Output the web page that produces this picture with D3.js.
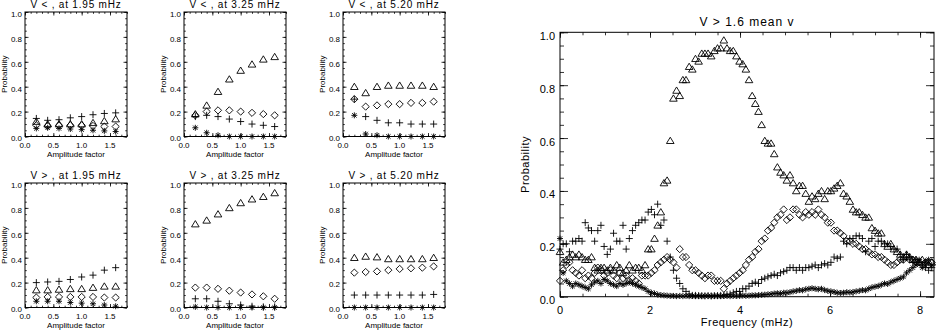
<!DOCTYPE html>
<html>
<head>
<meta charset="utf-8">
<script src="https://cdn.jsdelivr.net/npm/d3@7"></script>
<style>
  body { margin: 0; background: #fff; }
  svg text { font-family: "Liberation Sans", Arial, sans-serif; fill: #000; }
</style>
</head>
<body>
<div id="chart"></div>
<script>
/*
*    probability panels
*/

// ===== small panels: amplitude factor on x =====
const amplitudes = [0.2, 0.4, 0.6, 0.8, 1.0, 1.2, 1.4, 1.6];
const ampTicks = [0.0, 0.5, 1.0, 1.5];
const probTicks = [0.0, 0.2, 0.4, 0.6, 0.8, 1.0];

// order of every panel: plus, triangle, diamond, asterisk
const lt195 = [
  [0.145, 0.13, 0.135, 0.15, 0.16, 0.175, 0.185, 0.19],
  [0.12, 0.10, 0.10, 0.10, 0.10, 0.11, 0.125, 0.14],
  [0.09, 0.085, 0.09, 0.09, 0.09, 0.085, 0.08, 0.08],
  [0.065, 0.07, 0.065, 0.06, 0.055, 0.05, 0.045, 0.04]
];
const lt325 = [
  [0.16, 0.17, 0.16, 0.14, 0.12, 0.10, 0.09, 0.08],
  [0.18, 0.25, 0.36, 0.46, 0.53, 0.58, 0.62, 0.64],
  [0.17, 0.20, 0.21, 0.21, 0.20, 0.19, 0.18, 0.17],
  [0.07, 0.03, 0.01, 0.0, 0.0, 0.0, 0.0, 0.0]
];
const lt520 = [
  [0.30, 0.16, 0.13, 0.11, 0.11, 0.10, 0.10, 0.10],
  [0.40, 0.35, 0.40, 0.41, 0.41, 0.41, 0.41, 0.40],
  [0.30, 0.24, 0.25, 0.26, 0.26, 0.27, 0.27, 0.28],
  [0.17, 0.02, 0.01, 0.0, 0.0, 0.0, 0.0, 0.0]
];
const gt195 = [
  [0.20, 0.205, 0.21, 0.225, 0.245, 0.26, 0.30, 0.32],
  [0.14, 0.14, 0.145, 0.15, 0.15, 0.16, 0.17, 0.17],
  [0.08, 0.085, 0.085, 0.085, 0.085, 0.085, 0.08, 0.08],
  [0.05, 0.05, 0.05, 0.04, 0.035, 0.03, 0.02, 0.01]
];
const gt325 = [
  [0.07, 0.07, 0.05, 0.03, 0.02, 0.01, 0.005, 0.005],
  [0.67, 0.70, 0.75, 0.80, 0.84, 0.87, 0.89, 0.92],
  [0.16, 0.16, 0.15, 0.135, 0.12, 0.105, 0.09, 0.07],
  [0.005, 0.0, 0.0, 0.0, 0.0, 0.0, 0.0, 0.0]
];
const gt520 = [
  [0.10, 0.10, 0.10, 0.10, 0.10, 0.10, 0.10, 0.105],
  [0.40, 0.41, 0.405, 0.39, 0.39, 0.39, 0.39, 0.40],
  [0.28, 0.285, 0.29, 0.30, 0.31, 0.315, 0.32, 0.33],
  [0.0, 0.0, 0.0, 0.0, 0.0, 0.0, 0.0, 0.0]
];
const panelTitles = [
  "V < , at 1.95 mHz", "V < , at 3.25 mHz", "V < , at 5.20 mHz",
  "V > , at 1.95 mHz", "V > , at 3.25 mHz", "V > , at 5.20 mHz"
];
const panelData = [lt195, lt325, lt520, gt195, gt325, gt520];

// ===== big panel: frequency on x =====
const freqTicks = [0, 2, 4, 6, 8];
const freqs = [
  0.00, 0.07, 0.14, 0.21, 0.28, 0.35, 0.42, 0.49, 0.56, 0.63,
  0.70, 0.77, 0.84, 0.91, 0.98, 1.05, 1.12, 1.19, 1.26, 1.33,
  1.40, 1.47, 1.54, 1.61, 1.68, 1.75, 1.82, 1.89, 1.96, 2.03,
  2.10, 2.17, 2.24, 2.31, 2.38, 2.45, 2.52, 2.59, 2.66, 2.73,
  2.80, 2.87, 2.94, 3.01, 3.08, 3.15, 3.22, 3.29, 3.36, 3.43,
  3.50, 3.57, 3.64, 3.71, 3.78, 3.85, 3.92, 3.99, 4.06, 4.13,
  4.20, 4.27, 4.34, 4.41, 4.48, 4.55, 4.62, 4.69, 4.76, 4.83,
  4.90, 4.97, 5.04, 5.11, 5.18, 5.25, 5.32, 5.39, 5.46, 5.53,
  5.60, 5.67, 5.74, 5.81, 5.88, 5.95, 6.02, 6.09, 6.16, 6.23,
  6.30, 6.37, 6.44, 6.51, 6.58, 6.65, 6.72, 6.79, 6.86, 6.93,
  7.00, 7.07, 7.14, 7.21, 7.28, 7.35, 7.42, 7.49, 7.56, 7.63,
  7.70, 7.77, 7.84, 7.91, 7.98, 8.05, 8.12, 8.19, 8.26
];
const bigTri = [
  0.17, 0.13, 0.14, 0.15, 0.16, 0.15, 0.16, 0.15, 0.14, 0.14,
  0.15, 0.11, 0.10, 0.11, 0.11, 0.10, 0.11, 0.10, 0.12, 0.11,
  0.09, 0.10, 0.12, 0.10, 0.11, 0.11, 0.10, 0.12, 0.18, 0.18,
  0.22, 0.27, 0.32, 0.43, 0.44, 0.59, 0.75, 0.78, 0.76, 0.82,
  0.82, 0.87, 0.86, 0.90, 0.89, 0.92, 0.92, 0.92, 0.91, 0.93,
  0.94, 0.94, 0.97, 0.94, 0.93, 0.93, 0.91, 0.89, 0.88, 0.86,
  0.82, 0.76, 0.73, 0.70, 0.65, 0.59, 0.58, 0.58, 0.54, 0.49,
  0.47, 0.46, 0.44, 0.46, 0.43, 0.40, 0.42, 0.42, 0.39, 0.36,
  0.38, 0.37, 0.39, 0.40, 0.37, 0.40, 0.40, 0.41, 0.42, 0.43,
  0.39, 0.38, 0.36, 0.33, 0.32, 0.32, 0.31, 0.30, 0.30, 0.26,
  0.25, 0.24, 0.24, 0.20, 0.19, 0.20, 0.18, 0.17, 0.16, 0.15,
  0.16, 0.15, 0.14, 0.14, 0.13, 0.14, 0.13, 0.12, 0.13
];
const bigDia = [
  0.06, 0.10, 0.12, 0.13, 0.10, 0.09, 0.08, 0.10, 0.07, 0.08,
  0.07, 0.09, 0.11, 0.10, 0.08, 0.09, 0.10, 0.08, 0.07, 0.09,
  0.07, 0.08, 0.06, 0.07, 0.06, 0.05, 0.08, 0.08, 0.08, 0.09,
  0.10, 0.12, 0.13, 0.14, 0.15, 0.14, 0.13, 0.11, 0.18, 0.15,
  0.15, 0.12, 0.10, 0.10, 0.09, 0.08, 0.07, 0.08, 0.08, 0.06,
  0.06, 0.06, 0.03, 0.05, 0.06, 0.07, 0.08, 0.09, 0.10, 0.12,
  0.14, 0.15, 0.17, 0.18, 0.21, 0.22, 0.25, 0.26, 0.28, 0.30,
  0.31, 0.33, 0.29, 0.30, 0.33, 0.33, 0.31, 0.30, 0.32, 0.31,
  0.32, 0.31, 0.33, 0.31, 0.30, 0.28, 0.28, 0.25, 0.25, 0.24,
  0.23, 0.21, 0.21, 0.20, 0.20, 0.19, 0.18, 0.18, 0.17, 0.16,
  0.16, 0.15, 0.15, 0.14, 0.13, 0.12, 0.12, 0.13, 0.14, 0.14,
  0.15, 0.14, 0.14, 0.13, 0.13, 0.12, 0.13, 0.12, 0.13
];
const bigPlus = [
  0.18, 0.20, 0.20, 0.17, 0.21, 0.21, 0.22, 0.21, 0.28, 0.26,
  0.25, 0.21, 0.25, 0.27, 0.19, 0.16, 0.18, 0.24, 0.21, 0.21,
  0.27, 0.18, 0.22, 0.25, 0.27, 0.28, 0.29, 0.29, 0.32, 0.33,
  0.31, 0.35, 0.27, 0.29, 0.21, 0.15, 0.10, 0.07, 0.05, 0.03,
  0.02, 0.01, 0.005, 0.005, 0.004, 0.004, 0.003, 0.004, 0.003, 0.004,
  0.004, 0.005, 0.005, 0.008, 0.01, 0.015, 0.02, 0.02, 0.03, 0.03,
  0.04, 0.05, 0.055, 0.05, 0.065, 0.07, 0.075, 0.08, 0.085, 0.08,
  0.09, 0.095, 0.10, 0.11, 0.11, 0.10, 0.11, 0.10, 0.11, 0.11,
  0.115, 0.12, 0.11, 0.12, 0.125, 0.12, 0.13, 0.15, 0.145, 0.15,
  0.21, 0.20, 0.22, 0.22, 0.23, 0.23, 0.22, 0.17, 0.21, 0.22,
  0.19, 0.21, 0.21, 0.20, 0.20, 0.19, 0.18, 0.18, 0.16, 0.14,
  0.16, 0.15, 0.13, 0.14, 0.13, 0.12, 0.11, 0.10, 0.11
];
const bigAst = [
  0.22, 0.09, 0.06, 0.05, 0.04, 0.05, 0.045, 0.04, 0.035, 0.03,
  0.045, 0.055, 0.06, 0.05, 0.065, 0.06, 0.05, 0.045, 0.04, 0.05,
  0.045, 0.05, 0.055, 0.05, 0.045, 0.04, 0.035, 0.03, 0.02, 0.015,
  0.012, 0.008, 0.006, 0.005, 0.004, 0.003, 0.003, 0.002, 0.003, 0.002,
  0.003, 0.002, 0.003, 0.002, 0.003, 0.002, 0.003, 0.003, 0.002, 0.003,
  0.003, 0.002, 0.003, 0.003, 0.002, 0.003, 0.003, 0.003, 0.004, 0.003,
  0.004, 0.005, 0.005, 0.006, 0.007, 0.008, 0.009, 0.01, 0.012, 0.013,
  0.012, 0.015, 0.015, 0.017, 0.02, 0.022, 0.025, 0.024, 0.028, 0.03,
  0.032, 0.03, 0.028, 0.03, 0.025, 0.022, 0.02, 0.018, 0.015, 0.014,
  0.015, 0.017, 0.016, 0.018, 0.02, 0.022, 0.025, 0.024, 0.03, 0.035,
  0.038, 0.04, 0.045, 0.05, 0.048, 0.055, 0.06, 0.065, 0.07, 0.075,
  0.09, 0.10, 0.11, 0.12, 0.14, 0.11, 0.13, 0.14, 0.12
];

// symbol paths (IDL psym 1, 5, 4, 2)
const symbols = [
  "M-3.5,0H3.5M0,-3.5V3.5",
  "M0,-3.5L3.8,2.8L-3.8,2.8Z",
  "M0,-3.6L3.6,0L0,3.6L-3.6,0Z",
  "M-3,0H3M0,-3V3M-2.2,-2.2L2.2,2.2M-2.2,2.2L2.2,-2.2"
];

const svg = d3.select("#chart")
  .append("svg")
  .attr("width", 936)
  .attr("height", 331);

// ticks on all four sides, pointing in
function frame(g, x, y, o) {
  const [x0, x1] = x.range();
  const [y0, y1] = y.range(); // y0 bottom, y1 top

  const tk = (axis, vals, size, tr) => g.append("g")
    .attr("transform", tr)
    .call(axis.tickValues(vals).tickSize(size).tickFormat(""))
    .call(s => s.select(".domain").remove())
    .call(s => s.selectAll("line").attr("stroke", "#000").attr("stroke-width", 0.8));

  tk(d3.axisBottom(x), o.xMinor, -o.xMinorLen, `translate(0,${y0})`);
  tk(d3.axisTop(x), o.xMinor, -o.xMinorLen, `translate(0,${y1})`);
  tk(d3.axisBottom(x), o.xMajor, -o.xMajorLen, `translate(0,${y0})`);
  tk(d3.axisTop(x), o.xMajor, -o.xMajorLen, `translate(0,${y1})`);
  tk(d3.axisLeft(y), o.yMinor, -o.yMinorLen, `translate(${x0},0)`);
  tk(d3.axisRight(y), o.yMinor, -o.yMinorLen, `translate(${x1},0)`);
  tk(d3.axisLeft(y), o.yMajor, -o.yMajorLen, `translate(${x0},0)`);
  tk(d3.axisRight(y), o.yMajor, -o.yMajorLen, `translate(${x1},0)`);

  g.append("rect")
    .attr("x", x0).attr("y", y1)
    .attr("width", x1 - x0).attr("height", y0 - y1)
    .attr("fill", "none").attr("stroke", "#000").attr("stroke-width", 1);

  // tick labels
  g.selectAll(".xl").data(o.xMajor).enter().append("text")
    .attr("x", d => x(d)).attr("y", y0 + o.xLabelDy)
    .attr("text-anchor", "middle")
    .style("font-size", o.font + "px")
    .text(o.xFmt);
  g.selectAll(".yl").data(o.yMajor).enter().append("text")
    .attr("x", x0 - o.yLabelDx).attr("y", d => y(d) + o.yLabelDy)
    .attr("text-anchor", "end")
    .style("font-size", o.font + "px")
    .text(d3.format(".1f"));
}

function points(g, x, y, xs, ys, sym) {
  g.append("g").selectAll("path")
    .data(ys.map((v, i) => [xs[i], v]))
    .enter()
    .append("path")
    .attr("transform", d => `translate(${x(d[0])},${y(d[1])})`)
    .attr("d", sym)
    .attr("fill", "none")
    .attr("stroke", "#000")
    .attr("stroke-width", 0.9);
}

// ===== six small panels =====
const colLeft = [25, 184, 343];
const rowTop = [12, 183];
const boxW = 102, boxH = 124.5;

panelData.forEach((series, k) => {
  const left = colLeft[k % 3];
  const top = rowTop[Math.floor(k / 3)];
  const g = svg.append("g");

  const x = d3.scaleLinear().domain([0, 1.8]).range([left, left + boxW]);
  const y = d3.scaleLinear().domain([0, 1]).range([top + boxH, top]);

  frame(g, x, y, {
    xMajor: ampTicks, xMinor: d3.range(0, 1.81, 0.1),
    yMajor: probTicks, yMinor: d3.range(0, 1.001, 0.05),
    xMajorLen: 3.5, xMinorLen: 1.8, yMajorLen: 3.5, yMinorLen: 1.8,
    font: 8, xLabelDy: 11.3, yLabelDx: 3, yLabelDy: 4.8,
    xFmt: d3.format(".1f")
  });

  series.forEach((vals, s) => points(g, x, y, amplitudes, vals, symbols[s]));

  g.append("text")
    .attr("x", left + boxW / 2).attr("y", top - 4)
    .attr("text-anchor", "middle")
    .style("font-size", "10px")
    .style("letter-spacing", "0.8px")
    .text(panelTitles[k]);

  g.append("text")
    .attr("x", left + boxW / 2).attr("y", top + boxH + 20)
    .attr("text-anchor", "middle")
    .style("font-size", "8px")
    .text("Amplitude factor");

  g.append("text")
    .attr("transform", "rotate(-90)")
    .attr("x", -(top + boxH / 2)).attr("y", left - 18)
    .attr("text-anchor", "middle")
    .style("font-size", "8px")
    .text("Probability");
});

// ===== big panel =====
const big = { left: 560, right: 934, top: 32.3, bottom: 296.7 };
const gb = svg.append("g");
const xb = d3.scaleLinear().domain([0, 8.31]).range([big.left, big.right]);
const yb = d3.scaleLinear().domain([0, 1]).range([big.bottom, big.top]);

frame(gb, xb, yb, {
  xMajor: freqTicks, xMinor: d3.range(0, 8.31, 0.5),
  yMajor: probTicks, yMinor: d3.range(0, 1.001, 0.05),
  xMajorLen: 5.5, xMinorLen: 3, yMajorLen: 8, yMinorLen: 4,
  font: 11, xLabelDy: 16.8, yLabelDx: 5, yLabelDy: 7.5,
  xFmt: d3.format("d")
});

points(gb, xb, yb, freqs, bigAst, symbols[3]);
points(gb, xb, yb, freqs, bigDia, symbols[2]);
points(gb, xb, yb, freqs, bigPlus, symbols[0]);
points(gb, xb, yb, freqs, bigTri, symbols[1]);

gb.append("text")
  .attr("x", (big.left + big.right) / 2).attr("y", 26)
  .attr("text-anchor", "middle")
  .style("font-size", "12px")
  .style("letter-spacing", "1px")
  .text("V > 1.6 mean v");

gb.append("text")
  .attr("x", (big.left + big.right) / 2).attr("y", 326)
  .attr("text-anchor", "middle")
  .style("font-size", "11px")
  .style("letter-spacing", "0.5px")
  .text("Frequency (mHz)");

gb.append("text")
  .attr("transform", "rotate(-90)")
  .attr("x", -(big.top + big.bottom) / 2).attr("y", big.left - 31)
  .attr("text-anchor", "middle")
  .style("font-size", "11px")
  .style("letter-spacing", "0.5px")
  .text("Probability");
</script>
</body>
</html>
